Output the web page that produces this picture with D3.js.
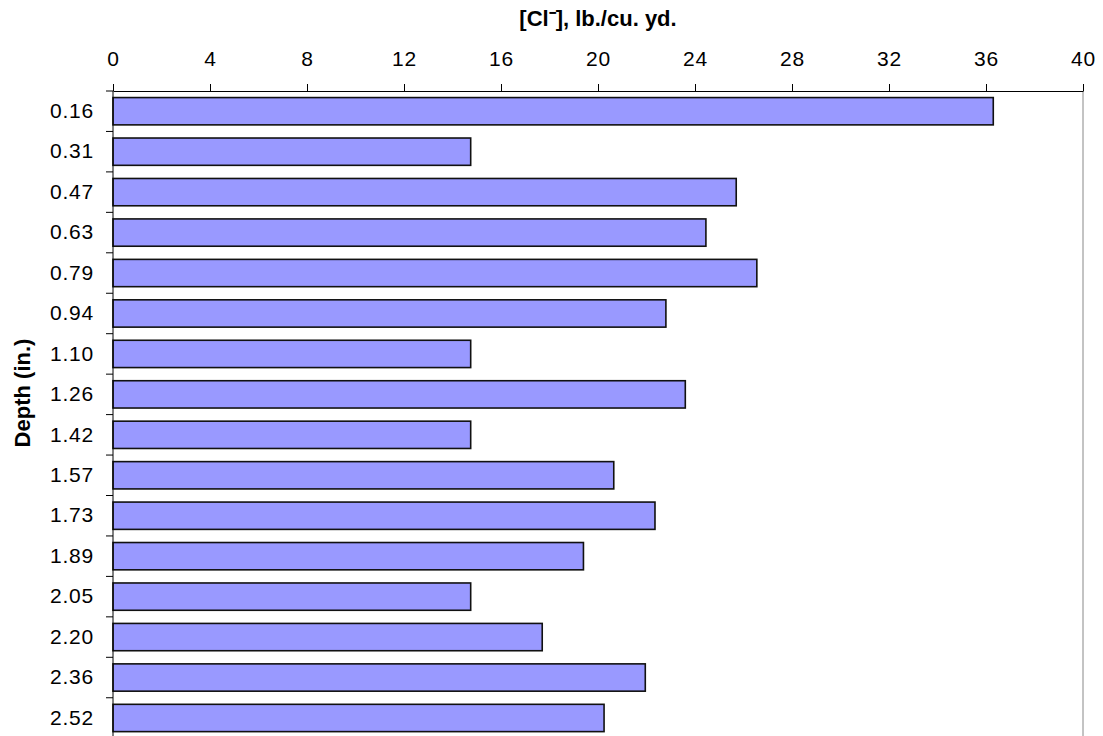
<!DOCTYPE html>
<html>
<head>
<meta charset="utf-8">
<script src="https://cdn.jsdelivr.net/npm/d3@7"></script>
<style>
  html, body { margin: 0; padding: 0; background: #fff; }
  svg { display: block; }
  text { font-family: "Liberation Sans", Arial, sans-serif; }
</style>
</head>
<body>
<svg id="chart" width="1103" height="736"></svg>
<script>
const depths = ["0.16","0.31","0.47","0.63","0.79","0.94","1.10","1.26","1.42","1.57","1.73","1.89","2.05","2.20","2.36","2.52"];
const chloride = [36.3, 14.75, 25.7, 24.45, 26.55, 22.8, 14.75, 23.6, 14.75, 20.65, 22.35, 19.4, 14.75, 17.7, 21.95, 20.25];
const xTicks = [0, 4, 8, 12, 16, 20, 24, 28, 32, 36, 40];
const xTitle = "[Cl\u207B], lb./cu. yd.";
const yTitle = "Depth (in.)";

const svg = d3.select("#chart");
const mLeft = 113, mRight = 1083, mTop = 91, mBottom = 738.2;

const x = d3.scaleLinear().domain([0, 40]).range([mLeft, mRight]);
const y = d3.scaleBand().domain(depths).range([mTop, mBottom])
  .paddingInner(0.325).paddingOuter(0.1625);

// right border
svg.append("line")
  .attr("x1", mRight).attr("x2", mRight).attr("y1", mTop).attr("y2", 736)
  .attr("stroke", "#888").attr("stroke-width", 1);

// bars
svg.append("g").selectAll("rect").data(depths).join("rect")
  .attr("x", x(0))
  .attr("y", d => y(d))
  .attr("width", (d, i) => x(chloride[i]) - x(0))
  .attr("height", y.bandwidth())
  .attr("fill", "#9999FF")
  .attr("stroke", "#111")
  .attr("stroke-width", 1.6);

// top axis
const xAxis = svg.append("g")
  .attr("transform", `translate(0,${mTop})`)
  .call(d3.axisTop(x).tickValues(xTicks).tickFormat(d3.format("d")).tickSize(7).tickPadding(18).tickSizeOuter(0));
xAxis.select(".domain").attr("stroke", "#000");
xAxis.selectAll("text").attr("font-size", 21).attr("letter-spacing", 0.8).attr("fill", "#000")
  .style("font-family", "'Liberation Sans', Arial, sans-serif");

// left axis
const yAxis = svg.append("g")
  .attr("transform", `translate(${mLeft},0)`)
  .call(d3.axisLeft(y).tickSize(0).tickPadding(19).tickSizeOuter(0));
yAxis.select(".domain").remove();
yAxis.selectAll("text").attr("font-size", 21).attr("letter-spacing", 0.8).attr("fill", "#000")
  .style("font-family", "'Liberation Sans', Arial, sans-serif");

svg.append("line")
  .attr("x1", mLeft).attr("x2", mLeft).attr("y1", mTop).attr("y2", 736)
  .attr("stroke", "#000").attr("stroke-width", 1);

// boundary ticks on left axis
const boundaries = d3.range(depths.length + 1).map(i => mTop + i * y.step());
svg.append("g").selectAll("line").data(boundaries).join("line")
  .attr("x1", mLeft - 7).attr("x2", mLeft)
  .attr("y1", d => d).attr("y2", d => d)
  .attr("stroke", "#000").attr("stroke-width", 1);

// titles
svg.append("text")
  .attr("x", (mLeft + mRight) / 2).attr("y", 26)
  .attr("text-anchor", "middle")
  .attr("font-size", 22).attr("font-weight", "bold")
  .text(xTitle);

svg.append("text")
  .attr("transform", `translate(30,393) rotate(-90)`)
  .attr("text-anchor", "middle")
  .attr("font-size", 22).attr("font-weight", "bold")
  .text(yTitle);
</script>
</body>
</html>
